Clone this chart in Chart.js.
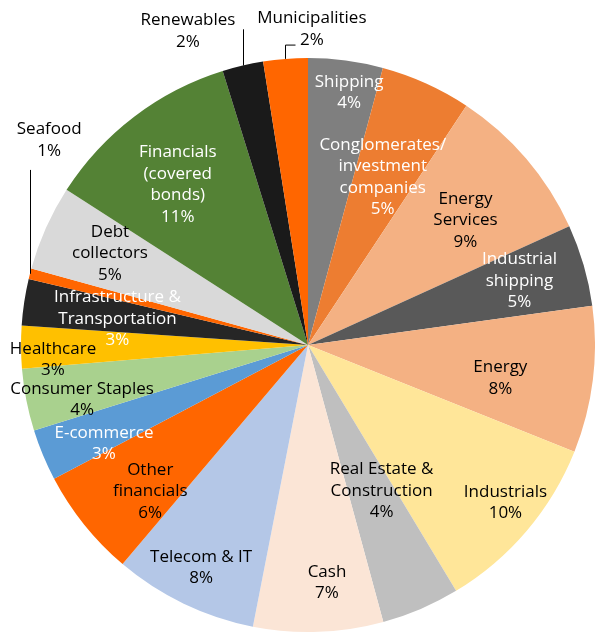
<!DOCTYPE html>
<html>
<head>
<meta charset="utf-8">
<script src="https://cdn.jsdelivr.net/npm/chart.js@4/dist/chart.umd.min.js"></script>
<style>
  html, body { margin: 0; padding: 0; background: #fff; }
  #wrap { width: 595px; height: 633px; }
</style>
</head>
<body>
<div id="wrap"><canvas id="sectorPie" width="595" height="633"></canvas></div>
<script>
const sectors = [
    "Shipping", "Conglomerates/ investment companies", "Energy Services", "Industrial shipping",
    "Energy", "Industrials", "Real Estate & Construction", "Cash", "Telecom & IT",
    "Other financials", "E-commerce", "Consumer Staples", "Healthcare",
    "Infrastructure & Transportation", "Seafood", "Debt collectors",
    "Financials (covered bonds)", "Renewables", "Municipalities"
];
const shares = [4.2, 5.1, 8.9, 4.6, 8.25, 10.3, 4.4, 7.3, 8.1, 6.1, 2.9, 3.5, 2.4, 2.6, 0.6, 4.8, 11.1, 2.3, 2.5];
const pctLabels = ["4%", "5%", "9%", "5%", "8%", "10%", "4%", "7%", "8%", "6%", "3%", "4%", "3%", "3%", "1%", "5%", "11%", "2%", "2%"];

// how the names wrap on the chart
const nameLines = [
    ["Shipping"], ["Conglomerates/", "investment", "companies"], ["Energy", "Services"], ["Industrial", "shipping"],
    ["Energy"], ["Industrials"], ["Real Estate &", "Construction"], ["Cash"], ["Telecom & IT"],
    ["Other", "financials"], ["E-commerce"], ["Consumer Staples"], ["Healthcare"],
    ["Infrastructure &", "Transportation"], ["Seafood"], ["Debt", "collectors"],
    ["Financials", "(covered", "bonds)"], ["Renewables"], ["Municipalities"]
];

const sliceColors = [
    "#7f7f7f", "#ed7d31", "#f4b183", "#595959", "#f4b183", "#ffe699", "#bfbfbf", "#fbe5d6", "#b4c7e7",
    "#ff6600", "#5b9bd5", "#a9d18e", "#ffc000", "#262626", "#ff6600", "#d9d9d9", "#548235", "#1a1a1a", "#ff6600"
];
const textColors = [
    "#fff", "#fff", "#000", "#fff", "#000", "#000", "#000", "#000", "#000",
    "#000", "#fff", "#000", "#000", "#fff", "#000", "#000", "#fff", "#000", "#000"
];
// [radius fraction, angle nudge in degrees from slice middle]
const labelPlace = [
    [0.89, 1.7], [0.64, -0.3], [0.70, 2.1], [0.77, -0.7], [0.68, 2.8], [0.88, -1.8], [0.57, -3.6],
    [0.83, -2.5], [0.86, 0], [0.75, -4.1], [0.79, -3.3], [0.81, -2.6], [0.89, -2.9], [0.67, -0.8],
    [1.15, 24], [0.76, 0.7], [0.72, -1.8], [1.17, -7.8], [1.10, 5.2]
];
// leader lines for outside labels: index -> [top as fraction of radius above centre, horizontal tail]
const leaders = { 14: [0.61, 0], 17: [1.10, 0], 18: [1.045, 10] };

const sliceLabels = {
    id: "sliceLabels",
    afterDatasetsDraw(chart) {
        const ctx = chart.ctx;
        const arcs = chart.getDatasetMeta(0).data;
        ctx.save();
        ctx.font = "17px 'Open Sans'";
        ctx.textAlign = "center";
        ctx.textBaseline = "middle";
        arcs.forEach((arc, i) => {
            const mid = (arc.startAngle + arc.endAngle) / 2;
            const r = arc.outerRadius;
            if (leaders[i]) {
                const ex = arc.x + Math.cos(mid) * r;
                const ey = arc.y + Math.sin(mid) * r;
                const topY = arc.y - r * leaders[i][0];
                ctx.strokeStyle = "#000";
                ctx.lineWidth = 1;
                ctx.beginPath();
                ctx.moveTo(Math.round(ex) + 0.5, ey);
                ctx.lineTo(Math.round(ex) + 0.5, topY);
                if (leaders[i][1]) ctx.lineTo(Math.round(ex) + 0.5 + leaders[i][1], topY);
                ctx.stroke();
            }
            const a = mid + labelPlace[i][1] * Math.PI / 180;
            const lx = arc.x + Math.cos(a) * r * labelPlace[i][0];
            const ly = arc.y + Math.sin(a) * r * labelPlace[i][0];
            const lines = nameLines[i].concat([pctLabels[i]]);
            const lh = 21.5;
            ctx.fillStyle = textColors[i];
            lines.forEach((t, k) => {
                ctx.fillText(t, lx, ly + (k - (lines.length - 1) / 2) * lh);
            });
        });
        ctx.restore();
    }
};

new Chart(document.getElementById("sectorPie"), {
    type: "pie",
    data: {
        labels: sectors,
        datasets: [
            {
                data: shares,
                backgroundColor: sliceColors,
                borderWidth: 0
            }
        ]
    },
    options: {
        responsive: false,
        animation: false,
        layout: { padding: { left: 21, right: 0, top: 57, bottom: 0 } },
        plugins: {
            legend: { display: false },
            tooltip: { enabled: false }
        }
    },
    plugins: [sliceLabels]
});
</script>
</body>
</html>
